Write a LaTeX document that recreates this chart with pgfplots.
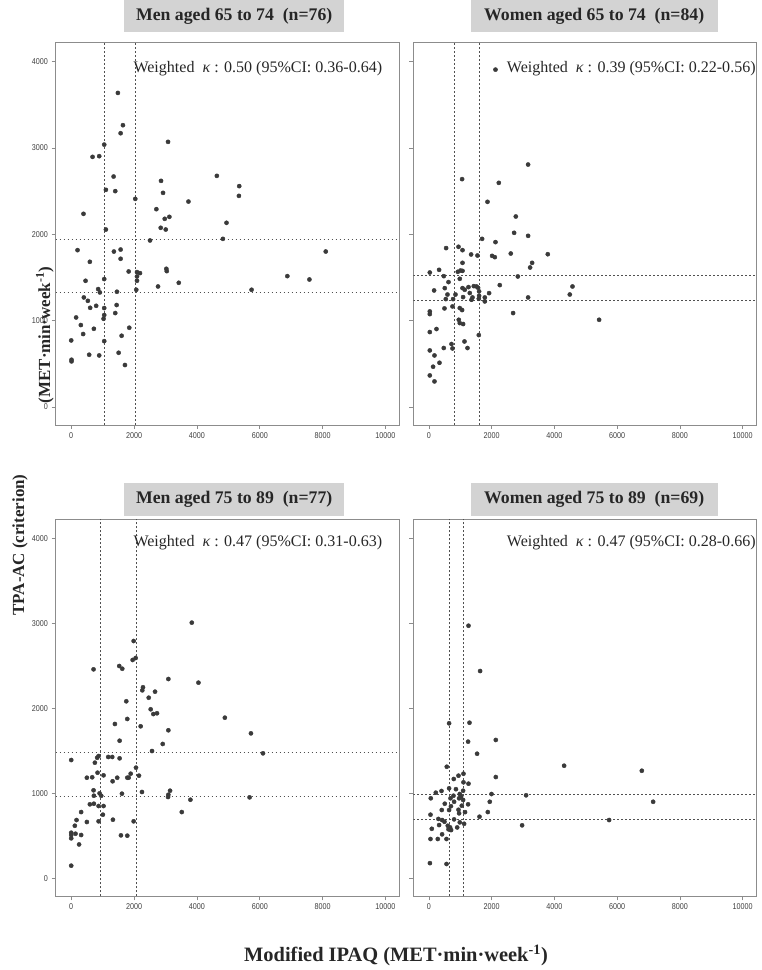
\documentclass[border=0pt]{standalone}
\usepackage{fontspec}
\setmainfont{Liberation Serif}
\newfontfamily\tickfamily{Liberation Sans}[FakeStretch=0.85]
\usepackage{pgfplots}
\pgfplotsset{compat=1.18}
\usepackage{pgfplotstable}
\definecolor{ptcol}{HTML}{3A3A3A}
\definecolor{titlegray}{HTML}{D3D3D3}
\definecolor{framegray}{HTML}{8C8C8C}
\definecolor{dashcol}{HTML}{505050}

\pgfplotstableread{
x y
1486 3638
1646 3264
1572 3171
3081 3071
1050 3039
679 2897
891 2905
4634 2677
1349 2669
2858 2619
1104 2515
1401 2500
2922 2480
2038 2410
3730 2379
2709 2291
391 2237
2976 2179
3123 2202
5346 2558
5336 2445
4941 2133
4826 1947
8099 1800
6877 1515
7579 1476
5739 1357
2848 2075
3008 2055
1104 2055
2507 1928
201 1816
1359 1800
1572 1823
1572 1716
593 1681
1828 1569
2093 1562
2188 1550
2093 1511
3027 1600
3040 1573
456 1461
1050 1481
2093 1461
3423 1438
2762 1395
858 1365
912 1326
1455 1334
2070 1357
402 1268
530 1229
603 1148
794 1171
1445 1180
1050 1145
1401 1087
1050 1064
1030 1021
156 1036
306 948
721 905
1847 917
380 844
1604 824
0 770
1050 762
571 604
890 596
1509 627
10 546
10 527
1710 485
}\menyoung

\pgfplotstableread{
x y
2121 3908
3161 2808
1056 2639
2227 2596
1866 2376
2769 2206
2715 2017
3161 1982
1694 1947
2121 1909
546 1840
941 1855
1069 1816
1343 1766
1547 1754
2013 1750
2099 1735
2609 1777
3789 1769
3289 1669
3225 1615
1069 1669
26 1557
322 1588
919 1565
1005 1580
1069 1576
472 1515
982 1484
2833 1511
622 1446
163 1349
504 1376
2258 1411
4577 1395
4491 1302
3161 1268
2683 1087
1069 1376
1142 1357
1260 1388
1429 1399
1515 1395
1566 1380
1301 1319
1388 1268
1598 1338
1598 1287
1917 1318
1780 1268
1780 1222
1589 1253
845 1302
590 1302
536 1249
769 1249
1088 1272
1356 1241
750 1164
494 1141
982 1145
1056 1122
26 1106
26 1075
950 1009
982 971
1088 960
239 902
26 867
1589 832
1132 758
718 728
750 677
472 682
1228 682
26 654
175 596
335 511
131 465
26 364
175 295
5426 1009
}\womenyoung

\pgfplotstableread{
x y
3837 3009
1987 2793
2051 2593
1955 2570
1528 2499
1624 2467
711 2460
4048 2303
3091 2346
2284 2249
2262 2213
2667 2197
2466 2126
1752 2084
2529 1990
2613 1934
2730 1943
4889 1891
1784 1876
1391 1817
2210 1790
3091 1743
1540 1620
2912 1582
2571 1499
0 1393
871 1440
826 1420
1177 1429
1305 1429
1540 1413
753 1362
2061 1303
838 1244
1029 1213
498 1185
668 1190
1892 1232
1784 1185
1828 1185
1464 1185
2156 1209
1317 1143
711 1037
903 1001
954 973
721 973
1614 997
2252 1017
3145 1032
3091 985
3081 958
3793 926
593 872
721 879
871 852
1029 852
316 781
3518 781
1008 750
169 687
1327 691
498 664
871 672
1987 672
115 620
0 538
0 511
137 526
316 511
1582 507
1784 503
0 472
5719 1707
6102 1472
5675 954
0 150
250 400
}\menold

\pgfplotstableread{
x y
1260 2973
1630 2440
641 1825
1292 1832
2131 1629
1247 1609
1534 1467
4310 1326
568 1314
2131 1193
941 1209
791 1170
1100 1232
1100 1131
1260 1115
641 1060
217 1009
399 1029
57 943
982 993
1088 1032
781 973
1024 961
960 943
1088 923
686 943
1994 993
3097 978
504 879
801 902
1046 856
1247 872
1939 902
408 805
641 805
941 808
960 766
48 750
1876 781
1611 726
418 687
494 667
801 695
982 660
1120 643
600 620
673 601
622 578
705 569
322 628
89 584
2970 625
418 519
48 464
281 464
558 464
860 1050
700 850
1150 780
300 700
900 600
6788 1267
7149 902
5745 687
30 180
560 170
}\womenold

\pgfplotsset{
  panel/.style={
    scale only axis,
    anchor=south west,
    xmin=-500, xmax=10430, ymin=-210, ymax=4225,
    xtick={0,2000,...,10000}, ytick={0,1000,...,4000},
    scaled x ticks=false, scaled y ticks=false,
    tick align=outside, tick pos=left,
    major tick length=4bp,
    axis line style={draw=framegray, line width=0.9bp},
    every tick/.style={draw=framegray, line width=0.6bp},
    tick label style={font=\tickfamily\fontsize{8.5}{9}\selectfont, text=black!75},
    /pgf/number format/assume math mode=true,
    /pgf/number format/set thousands separator={},
  },
  dots/.style={only marks, mark=*, mark size=2.1bp, color=ptcol, mark options={fill=ptcol, draw=ptcol}},
  cut/.style={color=dashcol, line width=0.6bp, dash pattern=on 1.8bp off 2.2bp, forget plot},
}
\newcommand\titlefont{\fontsize{17.8}{20}\selectfont\bfseries}
\newcommand\kapfont{\fontsize{16.1}{18}\selectfont}
\newcommand\labfont{\fontsize{17}{20}\selectfont\bfseries}
\newcommand\xlabfont{\fontsize{20.5}{23}\selectfont\bfseries}

\begin{document}
\begin{tikzpicture}[x=1bp,y=1bp]
\useasboundingbox (0,0) rectangle (762,970);

% top-left
\begin{axis}[panel, at={(55.5bp,545bp)}, width=343.5bp, height=382.7bp]
\addplot[cut] coordinates {(1046,-210) (1046,4225)};
\addplot[cut] coordinates {(2035,-210) (2035,4225)};
\addplot[cut] coordinates {(-500,1945) (10430,1945)};
\addplot[cut] coordinates {(-500,1330) (10430,1330)};
\addplot[dots] table[x=x,y=y] {\menyoung};
\end{axis}

% top-right
\begin{axis}[panel, at={(413.3bp,545bp)}, width=342.7bp, height=382.7bp, yticklabels={}]
\addplot[cut] coordinates {(800,-210) (800,4225)};
\addplot[cut] coordinates {(1589,-210) (1589,4225)};
\addplot[cut] coordinates {(-500,1520) (10430,1520)};
\addplot[cut] coordinates {(-500,1230) (10430,1230)};
\addplot[dots] table[x=x,y=y] {\womenyoung};
\end{axis}

% bottom-left
\begin{axis}[panel, at={(55.5bp,73.7bp)}, width=343.5bp, height=377bp]
\addplot[cut] coordinates {(941,-210) (941,4225)};
\addplot[cut] coordinates {(2057,-210) (2057,4225)};
\addplot[cut] coordinates {(-500,1485) (10430,1485)};
\addplot[cut] coordinates {(-500,962) (10430,962)};
\addplot[dots] table[x=x,y=y] {\menold};
\end{axis}

% bottom-right
\begin{axis}[panel, at={(413.3bp,73.7bp)}, width=342.7bp, height=377bp, yticklabels={}]
\addplot[cut] coordinates {(641,-210) (641,4225)};
\addplot[cut] coordinates {(1088,-210) (1088,4225)};
\addplot[cut] coordinates {(-500,995) (10430,995)};
\addplot[cut] coordinates {(-500,690) (10430,690)};
\addplot[dots] table[x=x,y=y] {\womenold};
\end{axis}

% title boxes
\node[fill=titlegray, minimum width=220bp, minimum height=32bp, inner sep=0, anchor=south west, text=black!85] at (124,937.5) {\titlefont Men aged 65 to 74\ \ (n=76)};
\node[fill=titlegray, minimum width=247.4bp, minimum height=32bp, inner sep=0, anchor=south west, text=black!85] at (470.3,937.5) {\titlefont Women aged 65 to 74\ \ (n=84)};
\node[fill=titlegray, minimum width=220bp, minimum height=32.7bp, inner sep=0, anchor=south west, text=black!85] at (124,454) {\titlefont Men aged 75 to 89\ \ (n=77)};
\node[fill=titlegray, minimum width=247.4bp, minimum height=32.7bp, inner sep=0, anchor=south west, text=black!85] at (470.3,454) {\titlefont Women aged 75 to 89\ \ (n=69)};

% kappa
\node[anchor=base west, inner sep=0, text=black!85] at (133.3,897.3) {\kapfont Weighted\ \ {\itshape κ} : 0.50 (95\%CI: 0.36-0.64)};
\node[anchor=base west, inner sep=0, text=black!85] at (506.7,897.3) {\kapfont Weighted\ \ {\itshape κ} : 0.39 (95\%CI: 0.22-0.56)};
\node[anchor=base west, inner sep=0, text=black!85] at (133.3,423) {\kapfont Weighted\ \ {\itshape κ} : 0.47 (95\%CI: 0.31-0.63)};
\node[anchor=base west, inner sep=0, text=black!85] at (506.7,423) {\kapfont Weighted\ \ {\itshape κ} : 0.47 (95\%CI: 0.28-0.66)};

% axis labels
\node[anchor=base, inner sep=0, text=black!85] at (396,8) {\xlabfont Modified IPAQ (MET·min·week\textsuperscript{-1})};
\node[rotate=90, inner sep=0, text=black!85] at (20,425) {\labfont TPA-AC (criterion)};
\node[rotate=90, inner sep=0, text=black!85] at (45,635) {\labfont (MET·min·week\textsuperscript{-1})};
\end{tikzpicture}
\end{document}
